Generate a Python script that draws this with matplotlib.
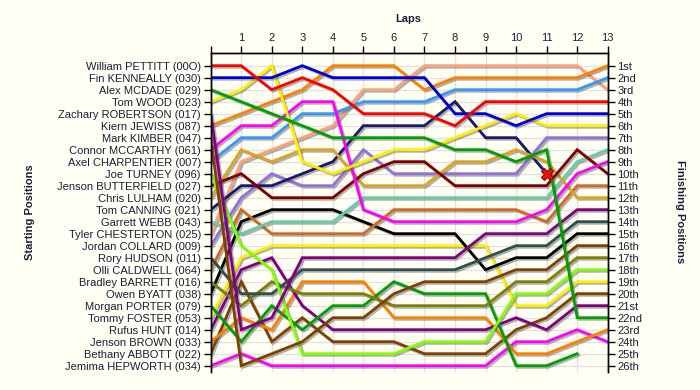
import numpy as np
import matplotlib
matplotlib.use("Agg")
import matplotlib.pyplot as plt
import matplotlib.patheffects as pe

nan = np.nan

drivers = ["William PETTITT (00O)", "Fin KENNEALLY (030)", "Alex MCDADE (029)", "Tom WOOD (023)",
           "Zachary ROBERTSON (017)", "Kiern JEWISS (087)", "Mark KIMBER (047)", "Connor MCCARTHY (061)",
           "Axel CHARPENTIER (007)", "Joe TURNEY (096)", "Jenson BUTTERFIELD (027)", "Chris LULHAM (020)",
           "Tom CANNING (021)", "Garrett WEBB (043)", "Tyler CHESTERTON (025)", "Jordan COLLARD (009)",
           "Rory HUDSON (011)", "Olli CALDWELL (064)", "Bradley BARRETT (016)", "Owen BYATT (038)",
           "Morgan PORTER (079)", "Tommy FOSTER (053)", "Rufus HUNT (014)", "Jenson BROWN (033)",
           "Bethany ABBOTT (022)", "Jemima HEPWORTH (034)"]

laps = list(range(0, 14))

positions = [
    [1, 1, 3, 2, 3, 5, 5, 5, 6, 4, 4, 4, 4, 4],
    [2, 2, 2, 1, 2, 2, 2, 2, 5, 5, 6, 5, 5, 5],
    [3, 4, 5, 6, 7, 7, 7, 7, 8, 8, 9, 8, 22, 22],
    [4, 3, 1, 9, 10, 9, 8, 8, 7, 6, 5, 6, 6, 6],
    [5, 23, 22, 17, 17, 17, 17, 17, 17, 15, 15, 15, 13, 13],
    [6, 5, 4, 3, 1, 1, 1, 3, 2, 2, 2, 2, 2, 1],
    [7, 26, 25, 24, 22, 22, 20, 19, 19, 19, 18, 18, 16, 16],
    [8, 6, 6, 4, 4, 13, 14, 14, 14, 14, 14, 13, 10, 9],
    [9, 7, 7, 5, 5, 4, 4, 4, 3, 3, 3, 3, 3, 2],
    [10, 16, 18, 25, 25, 25, 25, 24, 24, 24, 20, 20, 18, 18],
    [11, 10, 12, 12, 12, 10, 9, 9, 11, 11, 11, 11, 8, 10],
    [12, 8, 9, 8, 8, 11, 11, 11, 9, 9, 8, 9, 12, 12],
    [13, 11, 11, 10, 9, 6, 6, 6, 4, 7, 7, 10, nan, nan],
    [14, 15, 14, 14, 14, 12, 12, 12, 12, 12, 12, 12, 9, 8],
    [15, 9, 8, 7, 6, 3, 3, 1, 1, 1, 1, 1, 1, 3],
    [16, 12, 10, 11, 11, 8, 10, 10, 10, 10, 10, 7, 7, 7],
    [17, 20, 20, 18, 18, 18, 18, 18, 18, 17, 16, 16, 14, 14],
    [18, 13, 15, 15, 15, 15, 13, 13, 13, 13, 13, 14, 11, 11],
    [19, 21, 19, 20, 20, 20, 21, 21, 21, 21, 19, 19, 17, 17],
    [20, 14, 13, 13, 13, 14, 15, 15, 15, 18, 17, 17, 15, 15],
    [21, 24, 21, 23, 21, 21, 19, 20, 20, 20, 26, 26, 25, nan],
    [22, 17, 16, 16, 16, 16, 16, 16, 16, 16, 21, 21, 19, 19],
    [23, 18, 17, 21, 23, 23, 23, 23, 23, 23, 22, 23, 21, 21],
    [24, 22, 23, 19, 19, 19, 22, 22, 22, 22, 25, 25, 24, 23],
    [25, 19, 24, 22, 24, 24, 24, 25, 25, 25, 23, 22, 20, 20],
    [26, 25, 26, 26, 26, 26, 26, 26, 26, 26, 24, 24, 23, 24],
]

colors = ["#FF0000", "#0000DD", "#00A000", "#FFEE00", "#800080", "#FF8000", "#804000", "#FF00FF",
          "#3399FF", "#80FF00", "#800000", "#DAA520", "#191970", "#66CDAA", "#FFA07A", "#9370DB",
          "#2F4F4F", "#D2691E", "#808000", "#000000", "#00A000", "#FFEE00", "#800080", "#FF8000",
          "#804000", "#FF00FF"]

finish_labels = ["1st", "2nd", "3rd", "4th", "5th", "6th", "7th", "8th", "9th", "10th", "11th", "12th",
                 "13th", "14th", "15th", "16th", "17th", "18th", "19th", "20th", "21st", "22nd", "23rd",
                 "24th", "25th", "26th"]

retired_lap = [11]
retired_pos = [10]

bg = "#FFFFF3"
txt = "#1c1c3c"
plt.rcParams['font.family'] = ['Liberation Sans', 'DejaVu Sans']

fig = plt.figure(figsize=(7, 3.9), dpi=100, facecolor=bg)
ax = fig.add_axes([210.7 / 700, 1 - 371.7 / 390, (607.7 - 210.7) / 700, (371.7 - 52.7) / 390])
ax.set_facecolor(bg)
n = len(drivers)
ax.set_xlim(0, 13)
ax.set_ylim(n + 0.5, -0.08)

for i in range(1, n + 1):
    ax.axhline(i, color="#E2E2E2", lw=1, zorder=0)
for l in laps:
    ax.axvline(l, color="#E2E2E2", lw=1, zorder=0)

shadow = [pe.SimpleLineShadow(offset=(1.2, -1.2), shadow_color="#555555", alpha=0.45), pe.Normal()]
for i in range(n):
    ax.plot(laps, positions[i], color=colors[i], lw=2, solid_joinstyle='miter',
            path_effects=shadow, zorder=2 + (n - i) * 0.01)

ax.plot(retired_lap, retired_pos, marker='X', ms=9, color="#EE1111", mec="#990000", mew=0.8,
        ls='none', zorder=5)

ax.xaxis.tick_top()
ax.set_xticks(laps)
ax.set_xticklabels([""] + [str(l) for l in laps[1:]], fontsize=8, color=txt)
ax.set_yticks(range(1, n + 1))
ax.set_yticklabels(drivers, fontsize=8, color=txt)
ax.tick_params(axis='both', length=5, width=1, color='black', pad=2)

ax2 = ax.twinx()
ax2.set_ylim(ax.get_ylim())
ax2.set_yticks(range(1, n + 1))
ax2.set_yticklabels(finish_labels, fontsize=8, color=txt)
ax2.tick_params(axis='y', length=5, width=1, color='black', pad=2)

for a in (ax, ax2):
    a.spines['bottom'].set_visible(False)
    for s in ('top', 'left', 'right'):
        a.spines[s].set_color('black')
        a.spines[s].set_linewidth(1)

fig.text(408 / 700, 1 - 19 / 390, "Laps", ha='center', va='center', fontsize=8, fontweight='bold', color=txt)
fig.text(30 / 700, 1 - 212 / 390, "Starting Positions", ha='center', va='center', rotation=90,
         fontsize=8, fontweight='bold', color=txt)
fig.text(680 / 700, 1 - 212 / 390, "Finishing Positions", ha='center', va='center', rotation=270,
         fontsize=8, fontweight='bold', color=txt)

fig.savefig("out.png", dpi=100, facecolor=bg)
